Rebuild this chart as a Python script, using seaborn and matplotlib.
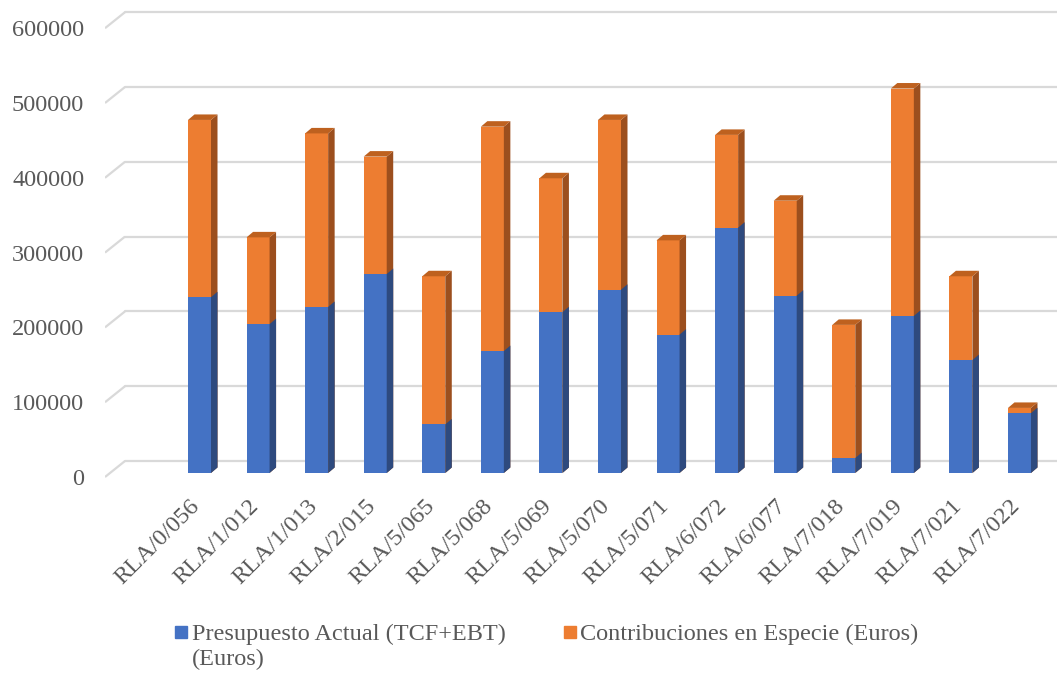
import numpy as np
import pandas as pd
import matplotlib
matplotlib.use("Agg")
import matplotlib.pyplot as plt
from matplotlib.lines import Line2D
from matplotlib.transforms import ScaledTranslation
import seaborn as sns

codigos = ["RLA/0/056", "RLA/1/012", "RLA/1/013", "RLA/2/015", "RLA/5/065",
           "RLA/5/068", "RLA/5/069", "RLA/5/070", "RLA/5/071", "RLA/6/072",
           "RLA/6/077", "RLA/7/018", "RLA/7/019", "RLA/7/021", "RLA/7/022"]
presupuesto = [235000, 199000, 222000, 266000, 65000, 163000, 215000, 245000,
               185000, 328000, 237000, 20000, 210000, 151000, 80000]
contribuciones = [237000, 116000, 232000, 157000, 198000, 300000, 179000, 227000,
                  126000, 124000, 127000, 178000, 304000, 112000, 7000]
yticks = [0, 100000, 200000, 300000, 400000, 500000, 600000]
leyenda = ["Presupuesto Actual (TCF+EBT)", "(Euros)", "Contribuciones en Especie (Euros)"]

df = pd.DataFrame({"codigo": codigos, "presupuesto": presupuesto,
                   "contribuciones": contribuciones})
df["total"] = df["presupuesto"] + df["contribuciones"]

sns.set_style("white")
plt.rcParams["font.family"] = ["Liberation Serif", "DejaVu Serif"]

azul, naranja = "#4472C4", "#ED7D31"
azul_lado, naranja_lado, naranja_tope = "#2E4A7E", "#9C4F1E", "#BE611F"
gris = "#595959"
grid_c = "#D9D9D9"

W, H = 1057, 677
fig = plt.figure(figsize=(W / 100, H / 100), dpi=100)
# axes spans px 105..1057 horizontally, 5..490 vertically
ax = fig.add_axes([105 / W, 1 - 490 / H, 952 / W, 485 / H])

px_x = 58.57          # px per category
unit_y = 100000 / 74.8  # data units per px
x_left = -94.5 / px_x
x_right = (W - 199.5) / px_x

bw = 23 / px_x
sns.barplot(data=df, x="codigo", y="total", color=naranja, width=bw, saturation=1,
            linewidth=0, ax=ax, zorder=2)
sns.barplot(data=df, x="codigo", y="presupuesto", color=azul, width=bw, saturation=1,
            linewidth=0, ax=ax, zorder=3)

# 3D-ish gridlines: short slanted piece then back wall line
back_dx = 20 / px_x
for v in yticks:
    front, back = v - 4 * unit_y, v + 12 * unit_y
    ax.plot([x_left, x_left + back_dx], [front, back], color=grid_c, lw=1.6, zorder=0,
            solid_capstyle="butt")
    ax.plot([x_left + back_dx, x_right], [back, back], color=grid_c, lw=1.6, zorder=0)

# depth faces built from the bars seaborn drew
dx = 6.5 / px_x
dy = 5.5 * unit_y
n = len(df)
tot_bars = ax.patches[:n]
az_bars = ax.patches[n:2 * n]
for p in tot_bars:
    x0, x1 = p.get_x(), p.get_x() + p.get_width()
    y0, y1 = p.get_y(), p.get_y() + p.get_height()
    ax.fill([x1, x1 + dx, x1 + dx, x1], [y0, y0 + dy, y1 + dy, y1],
            color=naranja_lado, zorder=2, lw=0)
    ax.fill([x0, x0 + dx, x1 + dx, x1], [y1, y1 + dy, y1 + dy, y1],
            color=naranja_tope, zorder=2, lw=0)
for p in az_bars:
    x0, x1 = p.get_x(), p.get_x() + p.get_width()
    y0, y1 = p.get_y(), p.get_y() + p.get_height()
    ax.fill([x1, x1 + dx, x1 + dx, x1], [y0, y0 + dy, y1 + dy, y1],
            color=azul_lado, zorder=3, lw=0)

ax.set_xlim(x_left, x_right)
ax.set_ylim(-17 * unit_y, 468 * unit_y)

for s in ax.spines.values():
    s.set_visible(False)
ax.set_xlabel("")
ax.set_ylabel("")
ax.set_yticks(yticks)
ax.set_yticklabels([str(v) for v in yticks], fontsize=17.5, color=gris)
ax.set_xticks(range(n))
ax.set_xticklabels(codigos, fontsize=17.5, color=gris, rotation=45, ha="right",
                   rotation_mode="anchor")
ax.tick_params(axis="y", length=0, pad=15)
ax.tick_params(axis="x", length=0, pad=4)
for lab in ax.get_yticklabels():
    lab.set_transform(lab.get_transform() + ScaledTranslation(0, -4 / 100, fig.dpi_scale_trans))
for lab in ax.get_xticklabels():
    lab.set_transform(lab.get_transform() + ScaledTranslation(-10 / 100, 0, fig.dpi_scale_trans))

handles = [Line2D([], [], marker="s", ls="", color=azul, markersize=8),
           Line2D([], [], marker="s", ls="", color=naranja, markersize=8)]
leg = fig.legend(handles, [leyenda[0], leyenda[2]], ncol=2, loc="upper left",
                 bbox_to_anchor=(174 / W, 1 - 623 / H), frameon=False, fontsize=17.5,
                 handlelength=0.6, handletextpad=0.12, columnspacing=2.35,
                 labelcolor=gris, borderpad=0, borderaxespad=0)
fig.canvas.draw()
bb = leg.get_texts()[0].get_window_extent()
fig.text(bb.x0 / W, (bb.y0 - 25) / H, leyenda[1], fontsize=17.5, color=gris,
         ha="left", va="bottom")

fig.savefig("out.png", dpi=100)
